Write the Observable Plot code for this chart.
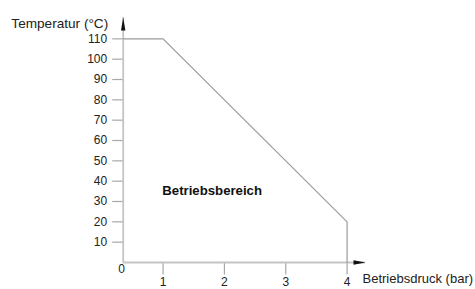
<!DOCTYPE html>
<html>
<head>
<meta charset="utf-8">
<script src="https://cdn.jsdelivr.net/npm/d3@7"></script>
<script src="https://cdn.jsdelivr.net/npm/@observablehq/plot@0.6"></script>
<style>
  html, body { margin: 0; padding: 0; background: #fff; }
  #chart svg { display: block; }
</style>
</head>
<body>
<div id="chart"></div>
<script>
// Data
const pressure = [0.35, 1, 4, 4];          // bar (first = axis origin)
const temperature = [110, 110, 20, 0];     // °C
const xTicks = [1, 2, 3, 4];
const yTicks = [10, 20, 30, 40, 50, 60, 70, 80, 90, 100, 110];
const xDomain = [0.35, 4.3];
const yDomain = [0, 120.5];
const originLabel = ["0"];
const yLabel = ["Temperatur (°C)"];
const xLabel = ["Betriebsdruck (bar)"];
const areaLabel = ["Betriebsbereich"];
const areaLabelX = [1.8];
const areaLabelY = [35.5];

const profile = pressure.map((p, i) => ({p, t: temperature[i]}));

const arrowUp = {draw(ctx) { ctx.moveTo(0, 0); ctx.lineTo(2.2, 13); ctx.lineTo(-2.2, 13); ctx.closePath(); }};
const arrowRight = {draw(ctx) { ctx.moveTo(0, 0); ctx.lineTo(-12, 2.2); ctx.lineTo(-12, -2.2); ctx.closePath(); }};
const tickLeft = {draw(ctx) { ctx.moveTo(-11, 0); ctx.lineTo(0, 0); }};
const tickDown = {draw(ctx) { ctx.moveTo(0, 0); ctx.lineTo(0, 12); }};

const chart = Plot.plot({
  width: 475,
  height: 289,
  marginLeft: 122.7,
  marginRight: 110,
  marginTop: 17,
  marginBottom: 27,
  x: {domain: xDomain, axis: null},
  y: {domain: yDomain, axis: null},
  style: {fontFamily: "'Liberation Sans', Arial, Helvetica, sans-serif", fontSize: "12px", color: "#222", background: "#fff", overflow: "visible"},
  marks: [
    Plot.dot(yTicks, {x: () => xDomain[0], y: d => d, symbol: tickLeft, stroke: "#a8a8a8", fill: "none", strokeWidth: 1.2}),
    Plot.text(yTicks, {x: () => xDomain[0], y: d => d, text: d => String(d), dx: -16, textAnchor: "end", fontSize: 12, fill: "#222"}),
    Plot.dot(xTicks, {x: d => d, y: () => yDomain[0], symbol: tickDown, stroke: "#a8a8a8", fill: "none", strokeWidth: 1.2}),
    Plot.text(xTicks, {x: d => d, y: () => yDomain[0], text: d => String(d), dy: 20, fontSize: 12, fill: "#222"}),
    Plot.ruleX([xDomain[0]], {y1: yDomain[0], y2: yDomain[1], stroke: "#c4c4c4", strokeWidth: 1.8}),
    Plot.ruleY([yDomain[0]], {x1: xDomain[0], x2: xDomain[1], stroke: "#c4c4c4", strokeWidth: 1.8}),
    Plot.line(profile, {x: "p", y: "t", stroke: "#9a9a9a", strokeWidth: 1.2}),
    Plot.dot([0], {x: () => xDomain[0], y: () => yDomain[1], symbol: arrowUp, fill: "#111", stroke: "none"}),
    Plot.dot([0], {x: () => xDomain[1], y: () => yDomain[0], symbol: arrowRight, fill: "#111", stroke: "none"}),
    Plot.text(originLabel, {frameAnchor: "bottom-left", text: d => d, dx: -5, dy: 10, fontSize: 12, fill: "#222"}),
    Plot.text(yLabel, {frameAnchor: "top-left", text: d => d, textAnchor: "end", dx: -15, dy: 1, fontSize: 13.6, fill: "#222"}),
    Plot.text(xLabel, {frameAnchor: "bottom-right", text: d => d, textAnchor: "start", dx: -3, dy: 20, fontSize: 13, fill: "#222"}),
    Plot.text(areaLabel, {x: areaLabelX, y: areaLabelY, text: d => d, fontSize: 13.2, fontWeight: "bold", fill: "#111"})
  ]
});
document.getElementById("chart").appendChild(chart);
</script>
</body>
</html>
